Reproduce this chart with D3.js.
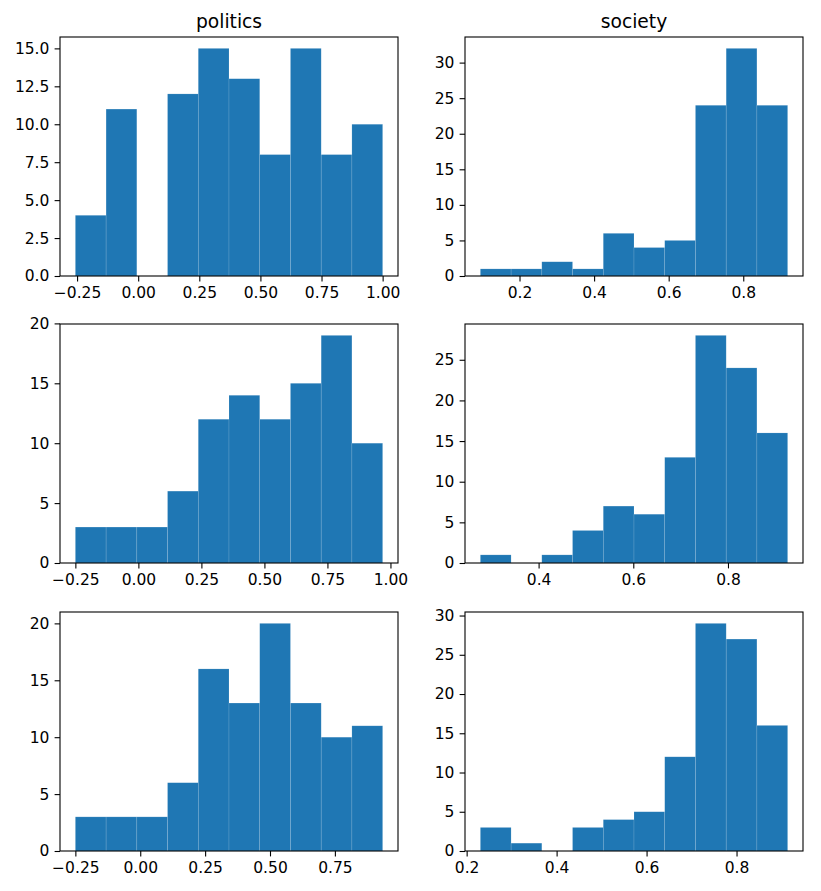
<!DOCTYPE html>
<html>
<head>
<meta charset="utf-8">
<script src="https://cdn.jsdelivr.net/npm/d3@7"></script>
<style>
  body { margin: 0; background: #fff; }
  svg text { font-family: "DejaVu Sans", sans-serif; fill: #000; }
</style>
</head>
<body>
<svg id="chart" width="821" height="891"></svg>
<script>
// column titles
const columnTitles = ["politics", "society"];

// histogram ranges [first edge, last edge], 10 equal bins each, one per row
const politicsRanges = [[-0.257, 1.0], [-0.25, 0.969], [-0.25, 0.934]];
const societyRanges = [[0.095, 0.919], [0.277, 0.926], [0.2305, 0.9136]];

// bin counts
const politicsCounts = [
  [4, 11, 0, 12, 15, 13, 8, 15, 8, 10],
  [3, 3, 3, 6, 12, 14, 12, 15, 19, 10],
  [3, 3, 3, 6, 16, 13, 20, 13, 10, 11]
];
const societyCounts = [
  [1, 1, 2, 1, 6, 4, 5, 24, 32, 24],
  [1, 0, 1, 4, 7, 6, 13, 28, 24, 16],
  [3, 1, 0, 3, 4, 5, 12, 29, 27, 16]
];

// tick labels
const politicsXTicks = [
  [-0.25, 0, 0.25, 0.5, 0.75, 1.0],
  [-0.25, 0, 0.25, 0.5, 0.75, 1.0],
  [-0.25, 0, 0.25, 0.5, 0.75]
];
const societyXTicks = [
  [0.2, 0.4, 0.6, 0.8],
  [0.4, 0.6, 0.8],
  [0.2, 0.4, 0.6, 0.8]
];
const politicsYTicks = [
  [0, 2.5, 5, 7.5, 10, 12.5, 15],
  [0, 5, 10, 15, 20],
  [0, 5, 10, 15, 20]
];
const societyYTicks = [
  [0, 5, 10, 15, 20, 25, 30],
  [0, 5, 10, 15, 20, 25],
  [0, 5, 10, 15, 20, 25, 30]
];

const svg = d3.select("#chart");
const colLeft = [60, 465];
const rowTop = [37, 324, 612];
const axW = 338;
const axH = 239;
const tickLen = 5.4;
const tickPad = 5.2;
const fontSize = "15.5px";
const barColor = "#1f77b4";

const minus = s => s.replace("-", "\u2212");

const panels = [];
for (let r = 0; r < 3; r++) {
  panels.push({ row: r, col: 0, range: politicsRanges[r], counts: politicsCounts[r],
    xt: politicsXTicks[r], yt: politicsYTicks[r], xfmt: ".2f" });
  panels.push({ row: r, col: 1, range: societyRanges[r], counts: societyCounts[r],
    xt: societyXTicks[r], yt: societyYTicks[r], xfmt: ".1f" });
}

panels.forEach(p => {
  const g = svg.append("g")
    .attr("transform", `translate(${colLeft[p.col]},${rowTop[p.row]})`);

  const lo = p.range[0], hi = p.range[1];
  const span = hi - lo;
  const binW = span / p.counts.length;
  const x = d3.scaleLinear()
    .domain([lo - 0.05 * span, hi + 0.05 * span])
    .range([0, axW]);
  const y = d3.scaleLinear()
    .domain([0, d3.max(p.counts) * 1.05])
    .range([axH, 0]);

  g.selectAll("rect.bar")
    .data(p.counts)
    .join("rect")
    .attr("class", "bar")
    .attr("x", (d, i) => x(lo + i * binW))
    .attr("width", (d, i) => x(lo + (i + 1) * binW) - x(lo + i * binW))
    .attr("y", d => y(d))
    .attr("height", d => y(0) - y(d))
    .attr("fill", barColor)
    .attr("stroke", d => d > 0 ? "#fff" : "none")
    .attr("stroke-opacity", 0.2)
    .attr("stroke-width", 0.6);

  const yFmt = p.yt.some(v => v % 1 !== 0) ? d3.format(".1f") : d3.format("d");
  const xFmt = d3.format(p.xfmt);

  const xAxis = g.append("g")
    .attr("transform", `translate(0,${axH})`)
    .call(d3.axisBottom(x)
      .tickValues(p.xt)
      .tickFormat(d => minus(xFmt(d)))
      .tickSize(tickLen)
      .tickSizeOuter(0)
      .tickPadding(tickPad));

  const yAxis = g.append("g")
    .call(d3.axisLeft(y)
      .tickValues(p.yt)
      .tickFormat(yFmt)
      .tickSize(tickLen)
      .tickSizeOuter(0)
      .tickPadding(tickPad));

  [xAxis, yAxis].forEach(a => {
    a.select(".domain").remove();
    a.selectAll(".tick line").attr("stroke", "#000").attr("stroke-width", 1.1);
    a.selectAll(".tick text")
      .attr("font-family", "DejaVu Sans, sans-serif")
      .attr("font-size", fontSize)
      .attr("fill", "#000");
  });

  g.append("rect")
    .attr("width", axW)
    .attr("height", axH)
    .attr("fill", "none")
    .attr("stroke", "#000")
    .attr("stroke-width", 1.1);

  if (p.row === 0) {
    g.append("text")
      .attr("x", axW / 2)
      .attr("y", -9)
      .attr("text-anchor", "middle")
      .attr("font-size", "18.7px")
      .text(columnTitles[p.col]);
  }
});
</script>
</body>
</html>
